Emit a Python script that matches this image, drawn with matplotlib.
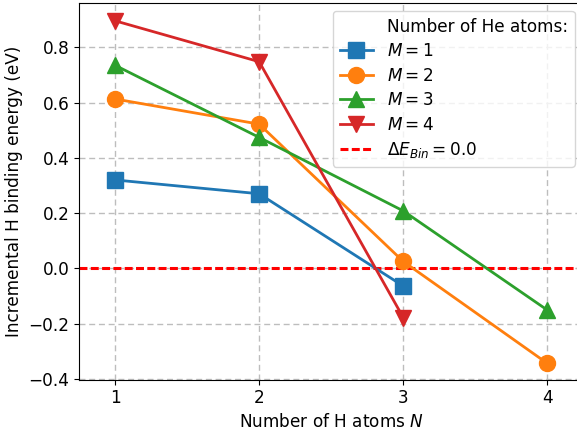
import matplotlib
matplotlib.use("Agg")
import matplotlib.pyplot as plt

# Incremental H binding energy vs number of H atoms, one series per He count
n_h = [1, 2, 3, 4]
m1 = [0.32, 0.27, -0.064]
m2 = [0.613, 0.522, 0.025, -0.344]
m3 = [0.735, 0.474, 0.208, -0.151]
m4 = [0.896, 0.748, -0.178]
series_labels = ["$M = 1$", "$M = 2$", "$M = 3$", "$M = 4$"]
ref_level = 0.0

plt.rcParams["font.size"] = 12.2

fig = plt.figure(figsize=(5.77, 4.30), dpi=100)
ax = fig.add_axes([0.137, 0.117, 0.874, 0.877])

ax.plot([], [], " ", label="Number of He atoms:")
ax.plot(n_h[:len(m1)], m1, "-s", color="tab:blue", lw=2, ms=11.5, label=series_labels[0])
ax.plot(n_h[:len(m2)], m2, "-o", color="tab:orange", lw=2, ms=11.5, label=series_labels[1])
ax.plot(n_h[:len(m3)], m3, "-^", color="tab:green", lw=2, ms=11.5, label=series_labels[2])
ax.plot(n_h[:len(m4)], m4, "-v", color="tab:red", lw=2, ms=11.5, label=series_labels[3])
ax.axhline(ref_level, color="red", ls="--", lw=2.2, dashes=(2.6, 1.1),
           label=r"$\Delta E_{Bin} = 0.0$", zorder=1)

ax.grid(True, color="#bdbdbd", lw=1, dashes=(4.3, 2.7))
ax.set_axisbelow(True)
ax.set_xlim(0.75, 4.25)
ax.set_ylim(-0.403, 0.962)
ax.set_xticks(n_h)
ax.set_yticks([-0.4, -0.2, 0.0, 0.2, 0.4, 0.6, 0.8])
ax.set_xlabel("Number of H atoms $N$")
ax.set_ylabel("Incremental H binding energy (eV)")
ax.legend(loc="upper right", fontsize=12.2, labelspacing=0.38)

fig.savefig("out.png", dpi=100)
